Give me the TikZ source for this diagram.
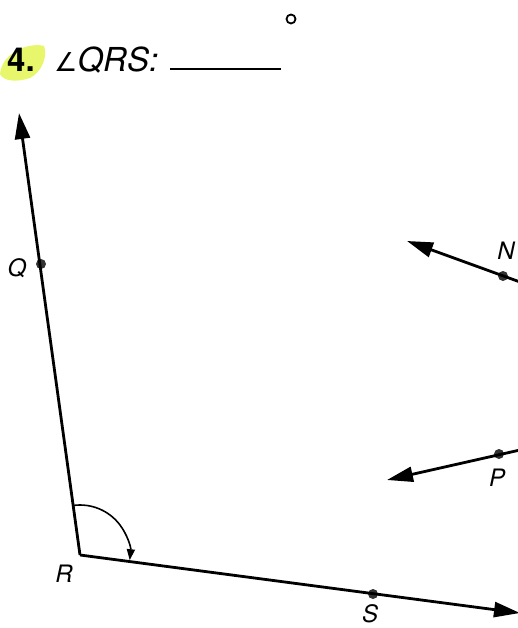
\documentclass[tikz,border=0pt]{standalone}
\usepackage{fontspec}
\setmainfont{TeX Gyre Heros}
\newfontfamily\symfont{DejaVu Sans}
\usetikzlibrary{arrows.meta,calc}
\definecolor{hl}{RGB}{228,245,90}
\begin{document}
\begin{tikzpicture}[x=1pt,y=-1pt,
  ray/.style={line width=2.8pt,-{Triangle[length=26pt,width=15pt]}},
  dot/.style={circle,fill=black!80,inner sep=0pt,minimum size=10pt},
  lbl/.style={font=\fontsize{24}{28}\selectfont\itshape},
  ttl/.style={font=\fontsize{33}{38}\selectfont}]
\useasboundingbox (0,0) rectangle (517,628);
% highlight
\fill[hl,opacity=0.9] (0,74) .. controls (2,52) and (30,42) .. (44,46) .. controls (48,56) and (42,72) .. (30,78) .. controls (18,82) and (4,82) .. (0,74) -- cycle;
\node[font=\fontsize{33}{38}\selectfont\bfseries,anchor=base west,inner sep=0pt] (num) at (7,72) {4.};
\node[ttl,anchor=base west,inner sep=0pt] (title) at (54,72) {{\symfont\fontsize{26}{30}\selectfont ∠}\textit{QRS:}};
\coordinate (u1) at (170,69);
\coordinate (u2) at (281,69);
\draw[line width=2pt] (u1) -- (u2);
\node[circle,draw,line width=1.8pt,inner sep=0pt,minimum size=9pt] (deg) at (291,19) {};
% points
\coordinate (R) at (80,555);
\coordinate (Qt) at (19,113);
\coordinate (St) at (520,613);
\node[dot] (Q) at (41,264) {};
\node[dot] (S) at (373,594) {};
\node[dot] (N) at (503,276) {};
\node[dot] (P) at (499,454) {};
\coordinate (Nt) at (407,241);
\coordinate (Pt) at (387,480);
\coordinate (Ne) at (520,282);
\coordinate (Pe) at (520,450);
\draw[ray] (R) -- (Qt);
\draw[ray] (R) -- (St);
\draw[ray] (Ne) -- (Nt);
\draw[ray] (Pe) -- (Pt);
% labels
\node[lbl] (lQ) at (17,268) {Q};
\node[lbl] (lR) at (64,574) {R};
\node[lbl] (lS) at (370,614) {S};
\node[lbl] (lN) at (506,251) {N};
\node[lbl] (lP) at (497,478) {P};
% angle arc
\draw[line width=1.6pt,-{Triangle[length=11pt,width=8pt]}] ($(R)+(-97.6:50)$) arc[start angle=-97.6,end angle=6,radius=50];
\end{tikzpicture}
\end{document}
